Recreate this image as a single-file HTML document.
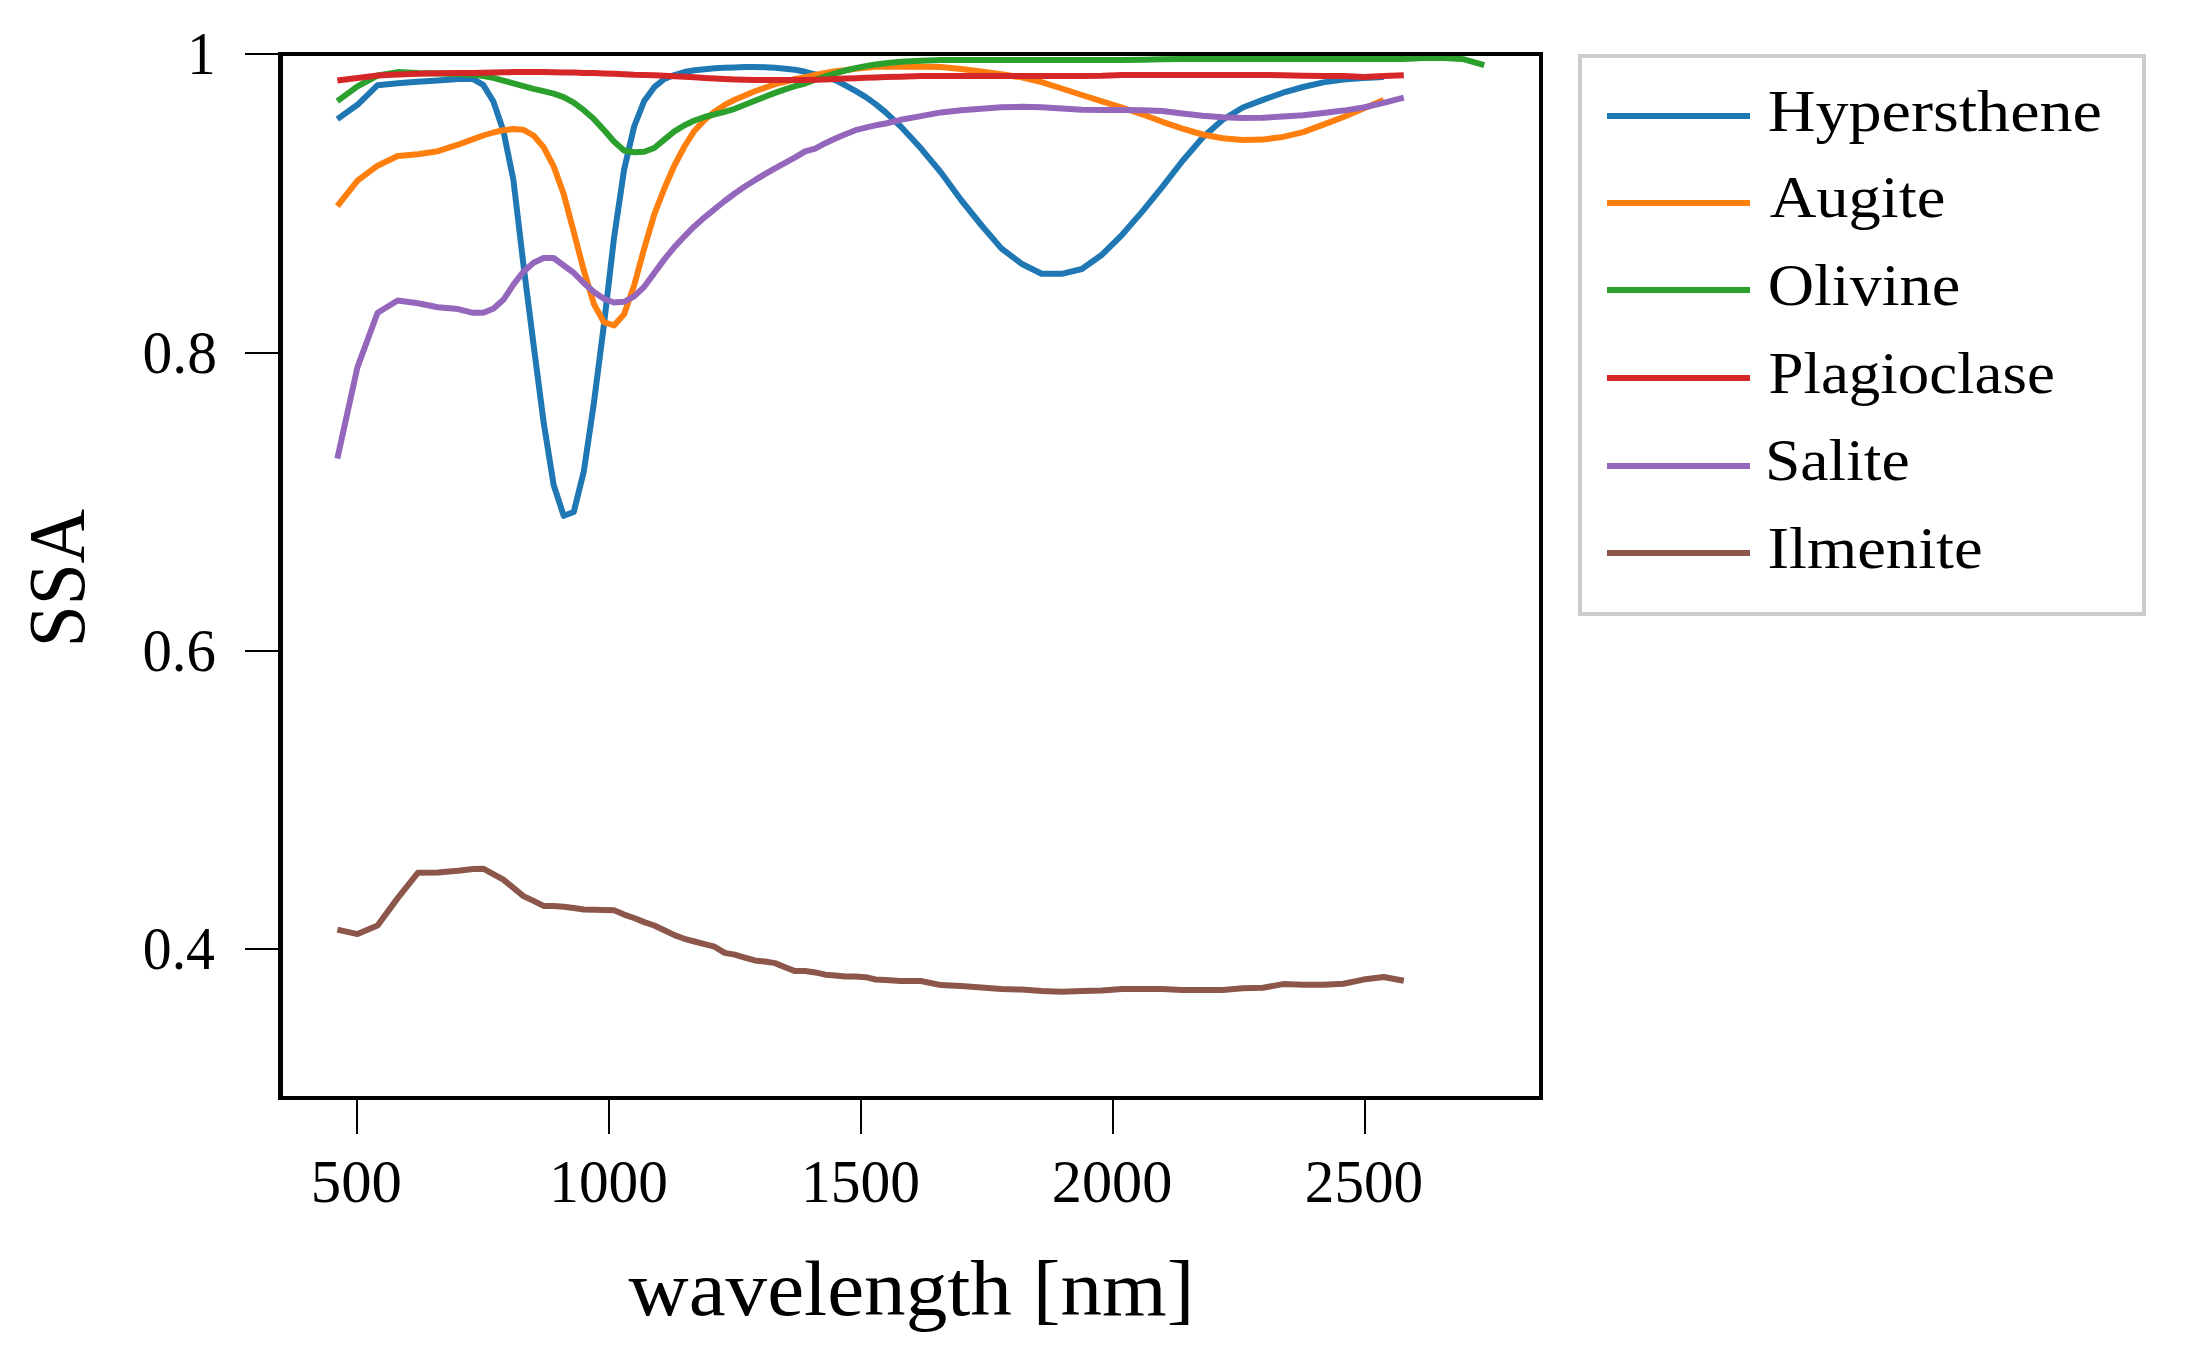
<!DOCTYPE html>
<html lang="en"><head><meta charset="utf-8"><title>SSA vs wavelength</title>
<style>html,body{margin:0;padding:0;background:#fff;overflow:hidden}svg{display:block}text{font-family:"Liberation Serif",serif;fill:#000}</style>
</head><body>
<svg width="2193" height="1356" viewBox="0 0 2193 1356">
<rect x="0" y="0" width="2193" height="1356" fill="#ffffff"/>
<clipPath id="ax"><rect x="280.5" y="54" width="1260.5" height="1044"/></clipPath>
<g clip-path="url(#ax)">
<polyline points="337.34,119.10 357.46,104.80 377.58,85.20 397.70,83.20 417.83,81.70 437.95,80.40 458.07,79.00 473.16,79.10 483.22,84.90 493.28,101.30 503.35,130.70 513.41,180.00 523.47,265.00 533.53,344.50 543.59,422.00 553.65,485.00 563.71,515.80 573.77,512.00 583.83,471.30 593.89,403.00 603.95,324.50 614.01,238.00 624.07,169.80 634.13,126.50 644.19,101.00 654.25,87.20 664.32,79.00 674.38,75.00 684.44,72.00 694.50,70.30 704.56,69.20 714.62,68.30 724.68,67.80 734.74,67.40 744.80,67.00 754.86,66.90 764.93,67.20 774.99,67.70 785.05,68.70 795.11,69.70 805.17,71.80 815.23,74.30 825.29,77.00 835.35,80.10 845.41,85.30 855.47,90.90 865.53,96.90 875.60,104.10 885.66,112.40 900.75,126.50 920.87,148.30 940.99,172.50 961.11,200.00 981.23,225.00 1001.35,248.40 1021.47,263.70 1041.60,273.80 1061.72,273.80 1081.84,269.00 1101.96,254.70 1122.08,234.80 1142.21,211.60 1162.33,186.90 1182.45,161.00 1202.57,137.60 1222.69,119.80 1242.82,107.50 1262.93,99.90 1283.06,92.70 1303.18,87.00 1323.30,82.40 1343.42,79.60 1363.54,77.90 1383.66,76.90" fill="none" stroke="#1f77b4" stroke-width="6" stroke-linejoin="round" stroke-linecap="butt"/>
<polyline points="337.34,206.10 357.46,180.70 377.58,165.70 397.70,156.00 417.83,154.20 437.95,151.20 458.07,144.70 473.16,139.10 483.22,135.50 493.28,132.50 503.35,130.20 513.41,129.00 523.47,129.80 533.53,135.50 543.59,147.10 553.65,166.30 563.71,194.00 573.77,232.00 583.83,270.40 593.89,304.00 603.95,322.20 614.01,325.50 624.07,314.20 634.13,285.40 644.19,248.50 654.25,214.30 664.32,188.50 674.38,165.50 684.44,146.50 694.50,130.70 704.56,119.90 714.62,111.70 724.68,104.90 734.74,99.80 744.80,95.60 754.86,91.30 764.93,87.70 774.99,84.10 785.05,81.90 795.11,79.00 805.17,77.20 815.23,74.90 825.29,72.90 835.35,71.30 845.41,70.20 855.47,68.80 865.53,67.70 875.60,66.80 885.66,66.70 900.75,66.70 920.87,66.70 940.99,67.00 961.11,69.00 981.23,71.50 1001.35,74.20 1021.47,77.40 1041.60,82.20 1061.72,88.50 1081.84,95.00 1101.96,101.30 1122.08,107.50 1142.21,114.30 1162.33,121.80 1182.45,128.70 1202.57,134.50 1222.69,138.20 1242.82,139.90 1262.93,139.60 1283.06,136.90 1303.18,132.10 1323.30,124.60 1343.42,117.00 1363.54,108.60 1383.66,100.00" fill="none" stroke="#ff7f0e" stroke-width="6" stroke-linejoin="round" stroke-linecap="butt"/>
<polyline points="337.34,101.10 357.46,86.30 377.58,75.50 397.70,72.10 417.83,73.10 437.95,73.60 458.07,74.00 473.16,74.70 483.22,76.00 493.28,77.90 503.35,80.60 513.41,83.40 523.47,86.10 533.53,88.80 543.59,91.20 553.65,93.70 563.71,97.20 573.77,102.70 583.83,110.20 593.89,119.10 603.95,130.00 614.01,141.50 624.07,150.50 634.13,152.30 644.19,151.70 654.25,148.00 664.32,139.60 674.38,131.40 684.44,125.20 694.50,120.50 704.56,117.00 714.62,114.30 724.68,111.80 734.74,108.80 744.80,104.80 754.86,100.80 764.93,96.80 774.99,92.90 785.05,89.40 795.11,86.20 805.17,83.50 815.23,79.80 825.29,76.30 835.35,73.30 845.41,70.50 855.47,68.10 865.53,66.10 875.60,64.40 885.66,63.20 900.75,61.80 920.87,60.70 940.99,60.00 961.11,60.00 981.23,60.00 1001.35,60.00 1021.47,60.00 1041.60,60.00 1061.72,60.00 1081.84,60.00 1101.96,60.00 1122.08,60.00 1142.21,59.80 1162.33,59.20 1182.45,59.00 1202.57,59.00 1222.69,59.00 1242.82,59.00 1262.93,59.00 1283.06,59.00 1303.18,59.00 1323.30,59.00 1343.42,59.00 1363.54,59.00 1383.66,59.00 1403.79,59.00 1423.91,58.10 1444.03,58.10 1464.15,59.30 1484.27,65.20" fill="none" stroke="#2ca02c" stroke-width="6" stroke-linejoin="round" stroke-linecap="butt"/>
<polyline points="337.34,80.40 357.46,78.00 377.58,75.60 397.70,74.40 417.83,73.70 437.95,73.20 458.07,73.00 473.16,72.90 483.22,72.70 493.28,72.50 503.35,72.30 513.41,72.10 523.47,72.00 533.53,72.00 543.59,72.10 553.65,72.30 563.71,72.40 573.77,72.60 583.83,72.90 593.89,73.10 603.95,73.40 614.01,73.80 624.07,74.30 634.13,74.80 644.19,75.00 654.25,75.30 664.32,75.80 674.38,76.30 684.44,76.70 694.50,77.20 704.56,77.90 714.62,78.40 724.68,78.90 734.74,79.40 744.80,79.80 754.86,80.10 764.93,80.10 774.99,80.10 785.05,80.10 795.11,80.10 805.17,80.00 815.23,79.80 825.29,79.40 835.35,79.00 845.41,78.60 855.47,78.20 865.53,77.80 875.60,77.40 885.66,77.10 900.75,76.70 920.87,76.10 940.99,75.90 961.11,76.00 981.23,76.00 1001.35,76.00 1021.47,76.00 1041.60,76.00 1061.72,76.00 1081.84,76.00 1101.96,75.80 1122.08,75.10 1142.21,74.90 1162.33,74.90 1182.45,74.90 1202.57,74.90 1222.69,74.90 1242.82,74.90 1262.93,74.90 1283.06,75.20 1303.18,75.80 1323.30,76.00 1343.42,76.10 1363.54,76.90 1383.66,76.00 1403.79,75.20" fill="none" stroke="#d62728" stroke-width="6" stroke-linejoin="round" stroke-linecap="butt"/>
<polyline points="337.34,458.60 357.46,367.10 377.58,312.80 397.70,300.50 417.83,303.20 437.95,307.30 458.07,309.10 473.16,312.80 483.22,312.80 493.28,308.70 503.35,299.80 513.41,284.70 523.47,271.70 533.53,262.80 543.59,258.00 553.65,258.00 563.71,265.50 573.77,272.80 583.83,283.00 593.89,292.00 603.95,298.80 614.01,302.50 624.07,301.80 634.13,296.40 644.19,286.80 654.25,273.10 664.32,259.40 674.38,247.10 684.44,236.30 694.50,226.20 704.56,217.30 714.62,209.10 724.68,201.00 734.74,193.50 744.80,186.50 754.86,180.20 764.93,174.20 774.99,168.30 785.05,162.80 795.11,157.30 805.17,151.40 815.23,148.60 825.29,143.20 835.35,138.50 845.41,134.20 855.47,130.20 865.53,127.60 875.60,125.30 885.66,123.50 900.75,119.80 920.87,116.10 940.99,112.40 961.11,110.30 981.23,108.70 1001.35,107.30 1021.47,106.80 1041.60,107.20 1061.72,108.50 1081.84,109.80 1101.96,110.00 1122.08,110.10 1142.21,110.20 1162.33,111.10 1182.45,113.60 1202.57,115.70 1222.69,117.30 1242.82,118.00 1262.93,117.70 1283.06,116.60 1303.18,115.30 1323.30,112.90 1343.42,110.60 1363.54,107.50 1383.66,102.80 1403.79,97.60" fill="none" stroke="#9467bd" stroke-width="6" stroke-linejoin="round" stroke-linecap="butt"/>
<polyline points="337.34,929.60 357.46,934.10 377.58,925.50 397.70,898.10 417.83,872.80 437.95,872.60 458.07,870.80 473.16,869.00 483.22,868.70 493.28,874.20 503.35,879.70 513.41,887.90 523.47,896.10 533.53,900.90 543.59,905.90 553.65,905.90 563.71,906.80 573.77,908.00 583.83,909.50 593.89,909.80 603.95,910.00 614.01,910.30 624.07,914.60 634.13,918.00 644.19,922.10 654.25,925.50 664.32,930.30 674.38,935.10 684.44,938.80 694.50,941.50 704.56,944.20 714.62,946.70 724.68,952.90 734.74,954.60 744.80,957.60 754.86,960.40 764.93,961.50 774.99,963.10 785.05,967.20 795.11,971.10 805.17,971.10 815.23,972.40 825.29,974.70 835.35,975.40 845.41,976.40 855.47,976.40 865.53,977.20 875.60,979.50 885.66,979.90 900.75,981.00 920.87,981.00 940.99,985.10 961.11,985.90 981.23,987.60 1001.35,988.90 1021.47,989.60 1041.60,991.00 1061.72,991.70 1081.84,991.00 1101.96,990.60 1122.08,988.90 1142.21,988.90 1162.33,988.90 1182.45,990.00 1202.57,989.90 1222.69,989.90 1242.82,988.20 1262.93,987.80 1283.06,984.10 1303.18,984.80 1323.30,984.80 1343.42,983.70 1363.54,979.60 1383.66,977.00 1403.79,980.70" fill="none" stroke="#8c564b" stroke-width="6" stroke-linejoin="round" stroke-linecap="butt"/>
</g>
<rect x="356" y="1100" width="2" height="34" fill="#000"/>
<rect x="608" y="1100" width="2" height="34" fill="#000"/>
<rect x="860" y="1100" width="2" height="34" fill="#000"/>
<rect x="1112" y="1100" width="2" height="34" fill="#000"/>
<rect x="1364" y="1100" width="2" height="34" fill="#000"/>
<rect x="245" y="53" width="33" height="2" fill="#000"/>
<rect x="245" y="352" width="33" height="2" fill="#000"/>
<rect x="245" y="650" width="33" height="2" fill="#000"/>
<rect x="245" y="948" width="33" height="2" fill="#000"/>
<rect x="278" y="52" width="5" height="1048" fill="#000"/>
<rect x="1539" y="52" width="4" height="1048" fill="#000"/>
<rect x="278" y="52" width="1265" height="4" fill="#000"/>
<rect x="278" y="1096" width="1265" height="4" fill="#000"/>
<text x="310.82" y="1202.3" font-size="60.5" textLength="91.08" lengthAdjust="spacingAndGlyphs">500</text>
<text x="549.23" y="1202.3" font-size="60.5" textLength="118.66" lengthAdjust="spacingAndGlyphs">1000</text>
<text x="801.01" y="1202.3" font-size="60.5" textLength="119.09" lengthAdjust="spacingAndGlyphs">1500</text>
<text x="1051.76" y="1202.3" font-size="60.5" textLength="120.58" lengthAdjust="spacingAndGlyphs">2000</text>
<text x="1304.83" y="1202.3" font-size="60.5" textLength="118.25" lengthAdjust="spacingAndGlyphs">2500</text>
<text x="187.20" y="74.0" font-size="60.5" textLength="28.42" lengthAdjust="spacingAndGlyphs">1</text>
<text x="142.56" y="372.7" font-size="60.5" textLength="74.47" lengthAdjust="spacingAndGlyphs">0.8</text>
<text x="142.39" y="670.8" font-size="60.5" textLength="73.62" lengthAdjust="spacingAndGlyphs">0.6</text>
<text x="142.82" y="969.0" font-size="60.5" textLength="72.17" lengthAdjust="spacingAndGlyphs">0.4</text>
<text x="628.60" y="1314.8" font-size="79" textLength="565.80" lengthAdjust="spacingAndGlyphs">wavelength [nm]</text>
<text transform="translate(84.4,647.25) rotate(-90)" x="0" y="0" font-size="79.5" textLength="138.26" lengthAdjust="spacingAndGlyphs">SSA</text>
<rect x="1580" y="56" width="564" height="558" fill="#fff" stroke="#cccccc" stroke-width="4"/>
<rect x="1607" y="113" width="143" height="6" fill="#1f77b4"/>
<text x="1767.70" y="131" font-size="60" textLength="334.30" lengthAdjust="spacingAndGlyphs">Hypersthene</text>
<rect x="1607" y="200" width="143" height="6" fill="#ff7f0e"/>
<text x="1769.70" y="217" font-size="60" textLength="175.70" lengthAdjust="spacingAndGlyphs">Augite</text>
<rect x="1607" y="287" width="143" height="6" fill="#2ca02c"/>
<text x="1767.71" y="305" font-size="60" textLength="192.49" lengthAdjust="spacingAndGlyphs">Olivine</text>
<rect x="1607" y="375" width="143" height="6" fill="#d62728"/>
<text x="1768.51" y="393" font-size="60" textLength="286.29" lengthAdjust="spacingAndGlyphs">Plagioclase</text>
<rect x="1607" y="463" width="143" height="6" fill="#9467bd"/>
<text x="1764.98" y="480" font-size="60" textLength="144.73" lengthAdjust="spacingAndGlyphs">Salite</text>
<rect x="1607" y="550" width="143" height="6" fill="#8c564b"/>
<text x="1767.50" y="568" font-size="60" textLength="215.21" lengthAdjust="spacingAndGlyphs">Ilmenite</text>
</svg>
</body></html>
